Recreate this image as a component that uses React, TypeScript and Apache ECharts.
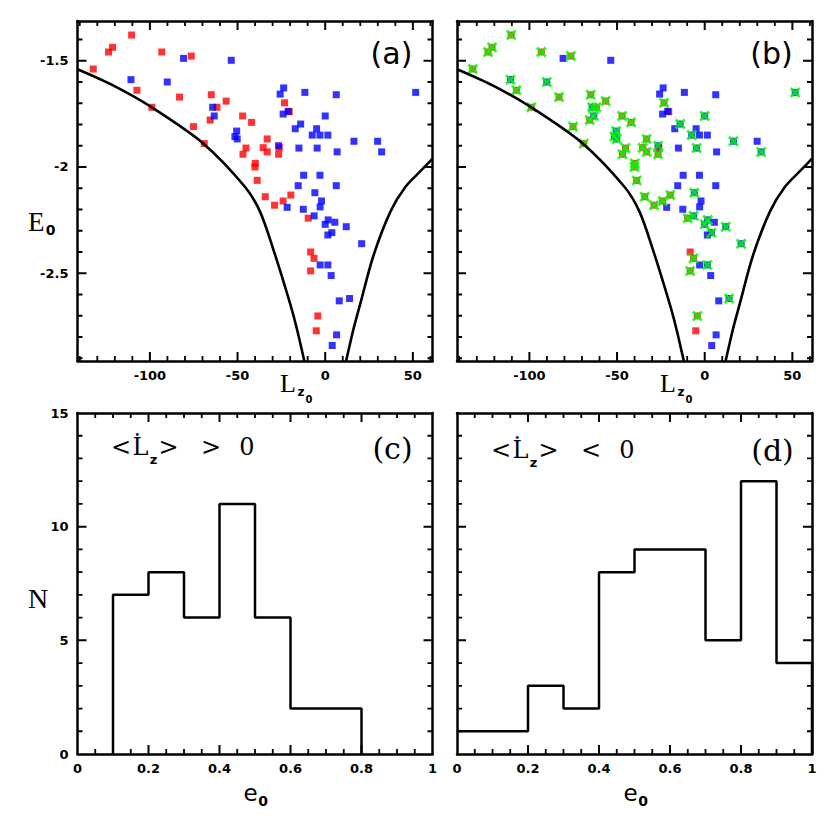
import React, { useEffect, useRef } from "react";
import * as echarts from "echarts";

// ---------- axis ranges and ticks ----------
const LZ_RANGE = [-141.3, 61.2];
const E_RANGE = [-2.913, -1.313];
const ECC_RANGE = [0, 1];
const N_RANGE = [0, 15];

const lzMajorTicks = [-100, -50, 0, 50];
const lzMinorTicks = [-140, -130, -120, -110, -90, -80, -70, -60, -40, -30, -20, -10, 10, 20, 30, 40, 60];
const eMajorTicks = [-2.5, -2, -1.5];
const eMinorTicks = [-2.9, -2.8, -2.7, -2.6, -2.4, -2.3, -2.2, -2.1, -1.9, -1.8, -1.7, -1.6, -1.4];
const eccMajorTicks = [0, 0.2, 0.4, 0.6, 0.8, 1];
const eccMinorTicks = [0.05, 0.1, 0.15, 0.25, 0.3, 0.35, 0.45, 0.5, 0.55, 0.65, 0.7, 0.75, 0.85, 0.9, 0.95];
const nMajorTicks = [0, 5, 10, 15];
const nMinorTicks = [1, 2, 3, 4, 6, 7, 8, 9, 11, 12, 13, 14];

// ---------- boundary curve ----------
const curveLeft = [
  [-141.3, -1.54], [-121, -1.616], [-99, -1.719], [-69.6, -1.889], [-45.8, -2.093],
  [-37.2, -2.21], [-29.7, -2.385], [-20.1, -2.641], [-16, -2.767], [-12.5, -2.892], [-11.9, -2.913],
];
const curveRight = [
  [11.9, -2.913], [12.5, -2.892], [16, -2.767], [20.1, -2.641], [27.4, -2.42],
  [37.2, -2.21], [45.8, -2.093], [55, -2.014], [61.2, -1.961],
];

// ---------- points: [Lz0, E0, marked in (b)] ----------
const redPoints = [
  [-110.4, -1.379, 1], [-121.3, -1.437, 1], [-123.6, -1.459, 1], [-93.2, -1.459, 1], [-76.4, -1.478, 1],
  [-132.3, -1.539, 1], [-107.4, -1.639, 1], [-83.1, -1.671, 1], [-65.0, -1.66, 1], [-56.5, -1.69, 1],
  [-61.8, -1.719, 1], [-98.9, -1.719, 1], [-65.6, -1.779, 1], [-75.1, -1.81, 1], [-47.1, -1.76, 1],
  [-42.0, -1.79, 1], [-69.0, -1.89, 1], [-45.2, -1.911, 1], [-46.9, -1.94, 1], [-39.9, -1.983, 1],
  [-40.1, -2.0, 1], [-38.8, -2.063, 1], [-23.2, -1.698, 1], [-20.5, -1.74, 0], [-33.1, -1.868, 1],
  [-35.4, -1.909, 1], [-33.1, -1.929, 1], [-26.2, -1.909, 0], [-26.6, -1.94, 1], [-34.2, -2.14, 1],
  [-19.6, -2.132, 1], [-28.9, -2.18, 1], [-24.0, -2.16, 1], [-9.7, -2.241, 1], [-8.3, -2.4, 0],
  [-6.4, -2.43, 1], [-8.3, -2.489, 1], [-4.2, -2.701, 1], [-5.1, -2.771, 0],
];
const bluePoints = [
  [-80.8, -1.489, 0], [-53.6, -1.498, 0], [-110.8, -1.589, 1], [-90.1, -1.6, 1], [-64.2, -1.719, 1],
  [-63.3, -1.76, 1], [-50.5, -1.831, 1], [-51.5, -1.857, 1], [-50.2, -1.868, 1], [-23.7, -1.628, 0],
  [-25.7, -1.657, 0], [-11.6, -1.649, 0], [6.3, -1.66, 0], [51.6, -1.649, 1], [-21.1, -1.738, 0],
  [-24.0, -1.751, 0], [0, -1.76, 1], [-14.0, -1.798, 1], [-17.1, -1.82, 0], [-4.9, -1.82, 0],
  [-7.4, -1.85, 1], [-3.0, -1.85, 0], [1.5, -1.85, 0], [16.4, -1.879, 1], [29.9, -1.879, 0],
  [-26.6, -1.9, 1], [-15.0, -1.911, 0], [-4.6, -1.911, 1], [6.8, -1.929, 0], [32.2, -1.929, 1],
  [-12.3, -2.039, 0], [-3.0, -2.039, 0], [-15.4, -2.088, 0], [6.3, -2.088, 0], [-5.9, -2.121, 1],
  [-2.1, -2.16, 0], [-2.9, -2.188, 0], [-21.7, -2.19, 0], [-12.5, -2.199, 0], [-6.3, -2.23, 1],
  [1.7, -2.249, 1], [0, -2.27, 1], [5.5, -2.26, 0], [12.0, -2.281, 1], [3.8, -2.309, 1],
  [1.5, -2.32, 0], [20.8, -2.361, 1], [-2.9, -2.461, 0], [1.5, -2.461, 1], [3.4, -2.511, 0],
  [8.0, -2.63, 0], [13.9, -2.619, 1], [6.5, -2.79, 0], [4.0, -2.84, 0],
];

// ---------- histograms ----------
const histPosEdges = [0.1, 0.2, 0.3, 0.4, 0.5, 0.6, 0.8];
const histPosCounts = [7, 8, 6, 11, 6, 2];
const histNegEdges = [0, 0.2, 0.3, 0.4, 0.5, 0.7, 0.8, 0.9, 1.0];
const histNegCounts = [1, 3, 2, 8, 9, 5, 12, 4];

function stepPoints(edges: number[], counts: number[], closeStart: boolean) {
  const pts: number[][] = [];
  if (closeStart) pts.push([edges[0], 0]);
  counts.forEach((c, i) => {
    pts.push([edges[i], c]);
    pts.push([edges[i + 1], c]);
  });
  pts.push([edges[edges.length - 1], 0]);
  return pts;
}

const LABEL_FONT = { color: "#000", fontFamily: "DejaVu Sans", fontWeight: "bold" as const, fontSize: 13 };

function frameAxes(grid: number, dim: "x" | "y", range: number[], majors: number[], showLabels: boolean) {
  const positions = dim === "x" ? ["bottom", "top"] : ["left", "right"];
  return positions.map((pos, pi) => ({
    type: "value", gridIndex: grid, position: pos, min: range[0], max: range[1],
    axisLine: { show: true, onZero: false, lineStyle: { color: "#000", width: 2.5 } },
    axisTick: { show: false },
    axisLabel: { show: showLabels && pi === 0, customValues: majors, margin: dim === "x" ? 8 : 9, ...LABEL_FONT },
    splitLine: { show: false },
  }));
}

// tick marks drawn as line series of short segments (broken by "-") along the frame, placed by the axes' scales
function tickSeriesList(ax: number, frameW: number, frameH: number, xr: number[], yr: number[], xMaj: number[], xMin: number[], yMaj: number[], yMin: number[]) {
  const inX = (v: number) => v > xr[0] + 1e-9 && v < xr[1] - 1e-9;
  const inY = (v: number) => v > yr[0] + 1e-9 && v < yr[1] - 1e-9;
  const dy = yr[1] - yr[0], dx = xr[1] - xr[0];
  const segX = (lenPx: number, vals: number[]) => {
    const f = lenPx / frameH;
    const data: any[] = [];
    vals.filter(inX).forEach((v) => {
      data.push([v, yr[0]], [v, yr[0] + dy * f], "-");
      data.push([v, yr[1]], [v, yr[1] - dy * f], "-");
    });
    return data;
  };
  const segY = (lenPx: number, vals: number[]) => {
    const f = lenPx / frameW;
    const data: any[] = [];
    vals.filter(inY).forEach((v) => {
      data.push([xr[0], v], [xr[0] + dx * f, v], "-");
      data.push([xr[1], v], [xr[1] - dx * f, v], "-");
    });
    return data;
  };
  const mk = (data: any[], w: number) => ({
    type: "line", xAxisIndex: ax, yAxisIndex: ax, silent: true, clip: false, z: 6,
    symbol: "none", connectNulls: false, data,
    lineStyle: { color: "#000", width: w },
  });
  return [
    mk(segX(9, xMaj), 2),
    mk(segX(5, xMin), 1.8),
    mk(segY(9, yMaj), 2),
    mk(segY(5, yMin), 1.8),
  ];
}

const SERIF = '"Liberation Serif"';
const DSERIF = '"DejaVu Serif"';
const SANS = '"DejaVu Sans"';

function txt(text: string, x: number, y: number, font: string, align = "center") {
  return {
    type: "text", x, y, silent: true, z: 10,
    style: { text, font, fill: "#000", align, verticalAlign: "middle", textAlign: align, textVerticalAlign: "middle" },
  };
}

const X_MARK = "path://M0,1.8 L1.8,0 L5,3.2 L8.2,0 L10,1.8 L6.8,5 L10,8.2 L8.2,10 L5,6.8 L1.8,10 L0,8.2 L3.2,5 Z";

export default function App() {
  const ref = useRef<HTMLDivElement>(null);
  useEffect(() => {
    if (!ref.current) return;
    const chart = echarts.init(ref.current, undefined, { renderer: "svg" });

    const grids = [
      { left: 77.5, top: 21, width: 355, height: 340 },
      { left: 457, top: 21, width: 355, height: 340 },
      { left: 77.5, top: 413, width: 355, height: 341 },
      { left: 457, top: 413, width: 355, height: 341 },
    ];
    const xAxes = [
      ...frameAxes(0, "x", LZ_RANGE, lzMajorTicks, true),
      ...frameAxes(1, "x", LZ_RANGE, lzMajorTicks, true),
      ...frameAxes(2, "x", ECC_RANGE, eccMajorTicks, true),
      ...frameAxes(3, "x", ECC_RANGE, eccMajorTicks, true),
    ];
    const yAxes = [
      ...frameAxes(0, "y", E_RANGE, eMajorTicks, true),
      ...frameAxes(1, "y", E_RANGE, eMajorTicks, false),
      ...frameAxes(2, "y", N_RANGE, nMajorTicks, true),
      ...frameAxes(3, "y", N_RANGE, nMajorTicks, false),
    ];

    const series: any[] = [];
    [0, 1].forEach((p) => {
      const ax = p * 2;
      series.push(...tickSeriesList(ax, grids[p].width, grids[p].height, LZ_RANGE, E_RANGE, lzMajorTicks, lzMinorTicks, eMajorTicks, eMinorTicks));
      [curveLeft, curveRight].forEach((c) => {
        series.push({
          type: "line", xAxisIndex: ax, yAxisIndex: ax, data: c, symbol: "none",
          smooth: 0.3, silent: true,
          lineStyle: { color: "#000", width: 2.6 },
        });
      });
      series.push({
        type: "scatter", xAxisIndex: ax, yAxisIndex: ax, symbol: "rect", symbolSize: 7, silent: true,
        data: redPoints.map((d) => [d[0], d[1]]), itemStyle: { color: "#ff0000" },
      });
      series.push({
        type: "scatter", xAxisIndex: ax, yAxisIndex: ax, symbol: "rect", symbolSize: 7, silent: true,
        data: bluePoints.map((d) => [d[0], d[1]]), itemStyle: { color: "#0000ff" },
      });
      if (p === 1) {
        series.push({
          type: "scatter", xAxisIndex: ax, yAxisIndex: ax, symbol: X_MARK, symbolSize: 11, silent: true,
          data: [...redPoints, ...bluePoints].filter((d) => d[2] === 1).map((d) => [d[0], d[1]]),
          itemStyle: { color: "#00ff00" },
        });
      }
    });
    series.push({
      type: "line", xAxisIndex: 4, yAxisIndex: 4, symbol: "none", silent: true,
      data: stepPoints(histPosEdges, histPosCounts, true),
      lineStyle: { color: "#000", width: 2.5 },
    });
    series.push({
      type: "line", xAxisIndex: 6, yAxisIndex: 6, symbol: "none", silent: true,
      data: stepPoints(histNegEdges, histNegCounts, false),
      lineStyle: { color: "#000", width: 2.5 },
    });
    [4, 6].forEach((ax, i) => {
      const g = grids[2 + i];
      series.push(...tickSeriesList(ax, g.width, g.height, ECC_RANGE, N_RANGE, eccMajorTicks, eccMinorTicks, nMajorTicks, nMinorTicks));
    });

    const graphic: any[] = [
      txt("E", 28, 222, `27px ${SERIF}`, "left"),
      txt("0", 50.5, 230, `bold 14px ${SANS}`),
      txt("N", 38, 598, `28px ${SERIF}`),
      txt("(a)", 391.5, 53, `30px ${SANS}`),
      txt("(b)", 771.5, 53, `30px ${SANS}`),
      txt("(c)", 392.5, 448, `30px ${DSERIF}`),
      txt("(d)", 772.5, 450, `30px ${DSERIF}`),
    ];
    [0, 380].forEach((dx) => {
      graphic.push(txt("L", 280 + dx, 383, `26px ${SERIF}`, "left"));
      graphic.push(txt("z", 301 + dx, 392, `bold 12px ${SANS}`));
      graphic.push(txt("0", 309 + dx, 399, `bold 10px ${SANS}`));
      graphic.push(txt("e", 250.5 + dx, 793, `23px ${SANS}`));
      graphic.push(txt("0", 263 + dx, 801, `bold 14px ${SANS}`));
    });
    const ann = (dx: number, dy: number, rel: string) => {
      graphic.push(txt("<", 121 + dx, 447 + dy, `24px ${DSERIF}`));
      graphic.push(txt("L\u0307", 140.5 + dx, 447 + dy, `24px ${DSERIF}`));
      graphic.push(txt("z", 153.5 + dx, 459 + dy, `bold 13px ${SANS}`));
      graphic.push(txt(">", 168.5 + dx, 447 + dy, `24px ${DSERIF}`));
      graphic.push(txt(rel, 211 + dx, 447 + dy, `24px ${DSERIF}`));
      graphic.push(txt("0", 247 + dx, 447 + dy, `24px ${DSERIF}`));
    };
    ann(0, 0, ">");
    ann(380, 3, "<");

    chart.setOption({
      animation: false,
      backgroundColor: "#fff",
      grid: grids,
      xAxis: xAxes,
      yAxis: yAxes,
      series,
      graphic,
    });
    return () => chart.dispose();
  }, []);
  return <div ref={ref} style={{ position: "fixed", left: 0, top: 0, width: 830, height: 830 }} />;
}
